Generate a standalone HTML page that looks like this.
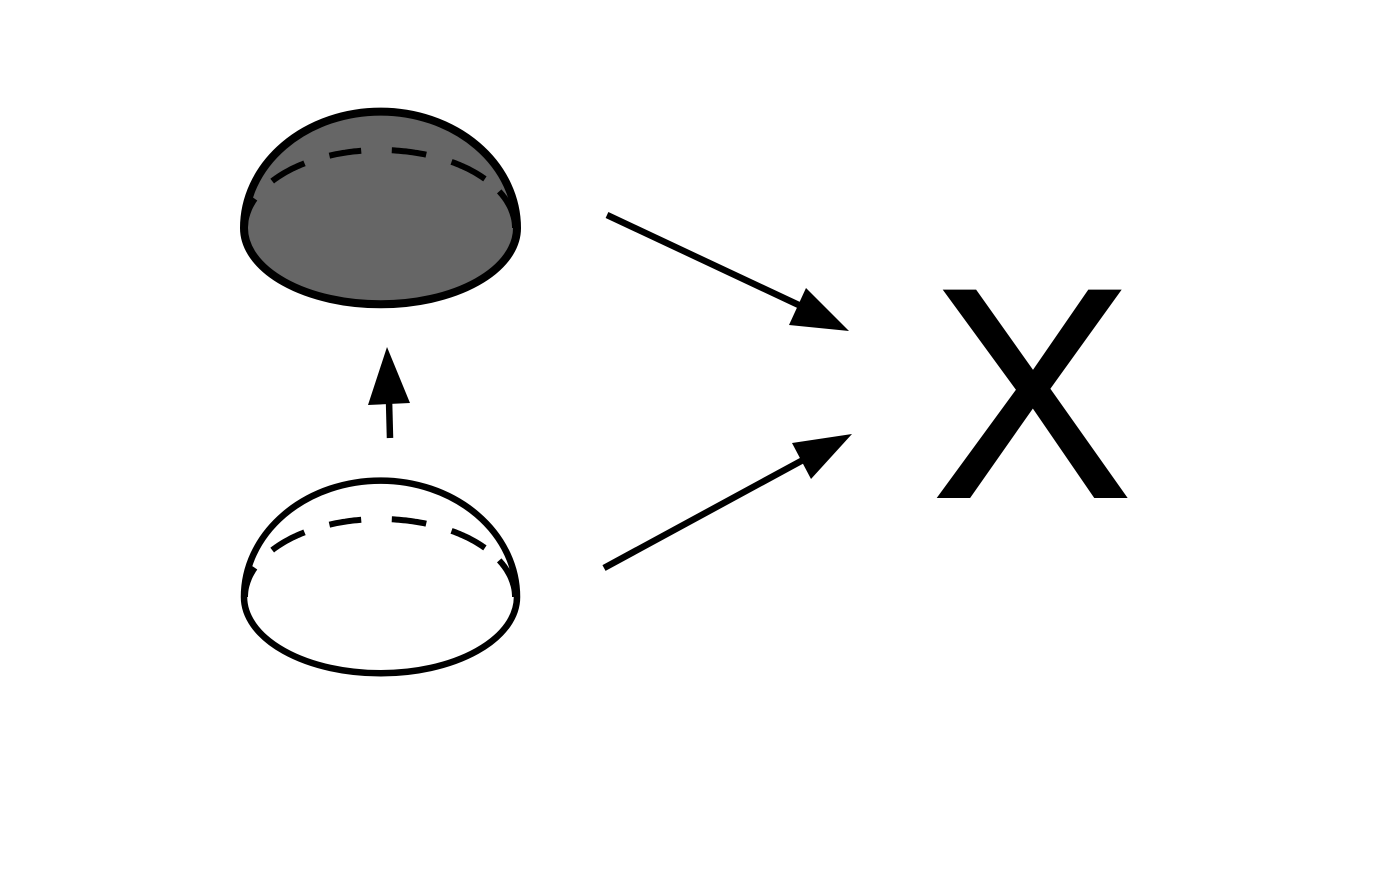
<!DOCTYPE html>
<html>
<head>
<meta charset="utf-8">
<style>
  html, body { margin: 0; padding: 0; background: #fff; }
  svg { display: block; }
</style>
</head>
<body>
<svg id="d" width="1376" height="874" viewBox="0 0 1376 874" xmlns="http://www.w3.org/2000/svg">
  <rect width="1376" height="874" fill="#fff"/>

  <g id="top">
    <path d="M 244 228 A 136 116 0 0 1 517 228 A 136 76 0 0 1 244 228 Z" fill="#666" stroke="#000" stroke-width="8"/>
  </g>

  <g id="bot">
    <path d="M 244 597 A 136 116 0 0 1 517 597 A 136 76 0 0 1 244 597 Z" fill="#fff" stroke="#000" stroke-width="6.5"/>
  </g>

  <g>
    <line x1="390" y1="438" x2="389" y2="400" stroke="#000" stroke-width="6.5"/>
    <polygon points="368,405 410,403 387,347" fill="#000"/>
  </g>

  <g>
    <line x1="607" y1="215" x2="803" y2="307" stroke="#000" stroke-width="6.5"/>
    <polygon points="789,325 806,288 849,331" fill="#000"/>
  </g>

  <g>
    <line x1="604" y1="568" x2="803" y2="460" stroke="#000" stroke-width="6.5"/>
    <polygon points="792,443 852,434 811,479" fill="#000"/>
  </g>

  <text x="1032" y="497" text-anchor="middle" font-family="Liberation Sans, sans-serif" font-size="300" fill="#000" stroke="#000" stroke-width="2">X</text>
</svg>
<script>
  var dashes = [[0,22],[37,56],[68,82],[95,110],[122,141],[152,180]];
  function arc(cy, a0, a1) {
    var d = '';
    for (var t = a0; t <= a1 + 0.001; t += 1) {
      var r = t * Math.PI / 180;
      var x = 380 - 135 * Math.cos(r), y = cy - 78 * Math.sin(r);
      d += (d ? ' L ' : 'M ') + x.toFixed(1) + ' ' + y.toFixed(1);
    }
    return d;
  }
  [['top', 228], ['bot', 597]].forEach(function (g) {
    var grp = document.getElementById(g[0]);
    dashes.forEach(function (ds) {
      var p = document.createElementNS('http://www.w3.org/2000/svg', 'path');
      p.setAttribute('d', arc(g[1], ds[0], ds[1]));
      p.setAttribute('fill', 'none');
      p.setAttribute('stroke', '#000');
      p.setAttribute('stroke-width', '6');
      
      
      grp.appendChild(p);
    });
  });
</script>
</body>
</html>
